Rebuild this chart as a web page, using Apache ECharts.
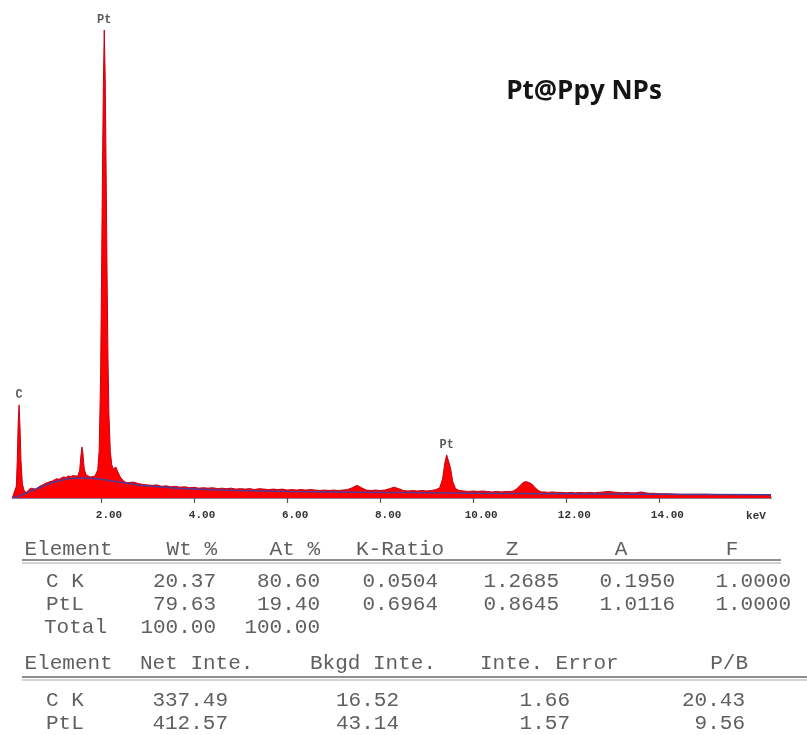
<!DOCTYPE html>
<html>
<head>
<meta charset="utf-8">
<script src="https://cdn.jsdelivr.net/npm/echarts@6/dist/echarts.min.js"></script>
<style>
  html, body { margin: 0; padding: 0; background: #ffffff; }
  #chart { width: 807px; height: 735px; }
</style>
</head>
<body>
<div id="chart"></div>
<script>
// ---- EDS spectrum of Pt@Ppy NPs (energy in keV, counts in arbitrary units) ----

// Carbon K region
const energyLow = [0.10, 0.14, 0.18, 0.20, 0.22, 0.24, 0.26, 0.28, 0.31, 0.35, 0.40, 0.45, 0.50];
const countsLow = [2, 6, 25, 80, 160, 199, 150, 80, 30, 15, 12, 18, 21];

// Bremsstrahlung hump
const energyHump = [0.55, 0.60, 0.65, 0.70, 0.75, 0.80, 0.85, 0.90, 0.95, 1.00, 1.05, 1.10, 1.15, 1.20, 1.25, 1.30, 1.35, 1.40, 1.45];
const countsHump = [20, 19, 23, 26, 28, 31, 33, 35, 36, 39, 41, 40, 43, 45, 44, 47, 46, 48, 47];

// Pt M lines
const energyPtM = [1.50, 1.54, 1.57, 1.59, 1.61, 1.64, 1.68, 1.72, 1.77, 1.82, 1.87, 1.90, 1.93, 1.96, 1.99, 2.01, 2.03, 2.05, 2.07, 2.09, 2.11, 2.13, 2.15, 2.17, 2.20, 2.23, 2.26, 2.29, 2.32, 2.36, 2.42, 2.48, 2.54];
const countsPtM = [47, 58, 92, 109, 96, 62, 49, 47, 45, 46, 47, 48, 60, 100, 250, 450, 680, 880, 1000, 900, 700, 480, 300, 180, 100, 72, 62, 64, 66, 56, 44, 37, 33];

// Mid-energy continuum
const energyMid = [2.6, 2.7, 2.8, 2.9, 3.0, 3.1, 3.2, 3.3, 3.4, 3.5, 3.6, 3.7, 3.8, 3.9, 4.0, 4.1, 4.2, 4.3, 4.4, 4.5, 4.6, 4.7, 4.8, 4.9, 5.0, 5.1, 5.2, 5.3, 5.4, 5.5, 5.6, 5.7, 5.8, 5.9, 6.0, 6.1, 6.2, 6.3, 6.4, 6.5, 6.6, 6.7, 6.8, 6.9, 7.0, 7.1, 7.2, 7.3, 7.4, 7.5, 7.6, 7.7, 7.8, 7.9, 8.0, 8.1, 8.2, 8.3, 8.4, 8.5, 8.6, 8.7, 8.8, 8.9, 9.0, 9.1, 9.2];
const countsMid = [33, 34, 31, 29, 28, 27, 28, 25, 26, 24, 25, 23, 24, 22, 23, 21, 22, 21, 22, 20, 21, 20, 21, 19, 20, 19, 20, 18, 20, 19, 18, 19, 18, 19, 17, 18, 17, 18, 17, 18, 17, 16, 17, 16, 17, 16, 17, 18, 22, 27, 22, 17, 16, 17, 16, 17, 20, 23, 20, 16, 15, 16, 15, 16, 15, 16, 18];

// Pt L lines
const energyPtL = [9.28, 9.34, 9.39, 9.43, 9.47, 9.51, 9.56, 9.62, 9.70, 9.80, 9.90, 10.0, 10.1, 10.2, 10.3, 10.4, 10.5, 10.6, 10.7, 10.8, 10.86, 10.93, 11.00, 11.07, 11.13, 11.20, 11.27, 11.33, 11.40, 11.47, 11.55];
const countsPtL = [22, 40, 75, 92, 88, 65, 35, 20, 16, 15, 14, 15, 14, 15, 14, 13, 14, 13, 14, 14, 15, 19, 26, 33, 35, 33, 29, 22, 16, 13, 13];

// High-energy tail
const energyHigh = [11.6, 11.7, 11.8, 11.9, 12.0, 12.1, 12.2, 12.3, 12.4, 12.5, 12.6, 12.7, 12.8, 12.9, 13.0, 13.1, 13.2, 13.3, 13.4, 13.5, 13.6, 13.7, 13.8, 13.9, 14.0, 14.2, 14.4, 14.6, 14.8, 15.0, 15.2, 15.4, 15.6, 15.8, 16.0, 16.2, 16.4];
const countsHigh = [12, 13, 12, 12, 11, 12, 11, 12, 11, 12, 11, 12, 13, 14, 13, 12, 11, 12, 11, 11, 13, 11, 10, 10, 9, 9, 8, 8, 8, 8, 7.5, 7.5, 7.5, 7, 7, 7, 7];

// Fitted background
const bkgEnergy = [0.1, 0.2, 0.3, 0.4, 0.5, 0.6, 0.8, 1.0, 1.2, 1.4, 1.6, 1.8, 2.0, 2.2, 2.4, 2.6, 2.8, 3.0, 3.5, 4, 5, 6, 7, 8, 9, 10, 11, 12, 13, 14, 15, 16.4];
const bkgCounts = [1, 3, 7, 11, 15, 19, 27, 34, 39, 42, 43, 42, 40, 37, 34, 31, 28, 26, 22, 19, 16, 14, 13, 12, 11, 10, 9.5, 9, 8.5, 8, 7.5, 7];

// Peak identification
const peakNames = ['C', 'Pt', 'Pt'];
const peakEnergy = [0.24, 2.07, 9.43];

// Axis ticks
const tickValues = [2, 4, 6, 8, 10, 12, 14];
const axisUnit = 'keV';
const chartTitle = 'Pt@Ppy NPs';

// Quantification tables
const table1Header = ['Element', 'Wt %', 'At %', 'K-Ratio', 'Z', 'A', 'F'];
const table1Rows = [
  ['C K', '20.37', '80.60', '0.0504', '1.2685', '0.1950', '1.0000'],
  ['PtL', '79.63', '19.40', '0.6964', '0.8645', '1.0116', '1.0000'],
  ['Total', '100.00', '100.00']
];
const table2Header = ['Element', 'Net Inte.', 'Bkgd Inte.', 'Inte. Error', 'P/B'];
const table2Rows = [
  ['C K', '337.49', '16.52', '1.66', '20.43'],
  ['PtL', '412.57', '43.14', '1.57', '9.56']
];

// ---- build series data ----
const energy = [].concat(energyLow, energyHump, energyPtM, energyMid, energyPtL, energyHigh);
const counts = [].concat(countsLow, countsHump, countsPtM, countsMid, countsPtL, countsHigh);
const spectrum = energy.map((e, i) => [e, counts[i]]);
const background = bkgEnergy.map((e, i) => [e, bkgCounts[i]]);
const peakMarks = peakEnergy.map((e, i) => {
  const idx = energy.indexOf(e);
  return { value: [e, counts[idx]], name: peakNames[i] };
});

// ---- table layout ----
const monoFont = '"Liberation Mono", "Courier New", monospace';
const tableFont = '21px ' + monoFont;
const tableColor = '#5f5f5f';

const t1HeadPos = [['left', 24.5], ['right', 217], ['right', 320], ['left', 356], ['center', 512], ['center', 621], ['center', 732]];
const t1RowPos = [['left', 46], ['right', 216], ['right', 320], ['right', 438], ['right', 559], ['right', 675], ['right', 791]];
const t1TotalPos = [['left', 44], ['right', 216], ['right', 320]];
const t2HeadPos = [['left', 24.5], ['left', 140], ['left', 310], ['left', 480], ['right', 748]];
const t2RowPos = [['left', 46], ['right', 228], ['right', 399], ['right', 570], ['right', 745]];

function textEl(str, align, x, y) {
  return {
    type: 'text',
    silent: true,
    style: {
      text: str, x: x, y: y,
      font: tableFont, fill: tableColor,
      textAlign: align, textVerticalAlign: 'middle'
    }
  };
}

const graphics = [];
table1Header.forEach((h, i) => graphics.push(textEl(h, t1HeadPos[i][0], t1HeadPos[i][1], 549)));
[581, 604].forEach((y, r) => table1Rows[r].forEach((c, i) => graphics.push(textEl(c, t1RowPos[i][0], t1RowPos[i][1], y))));
table1Rows[2].forEach((c, i) => graphics.push(textEl(c, t1TotalPos[i][0], t1TotalPos[i][1], 627)));
table2Header.forEach((h, i) => graphics.push(textEl(h, t2HeadPos[i][0], t2HeadPos[i][1], 663)));
[700, 723].forEach((y, r) => table2Rows[r].forEach((c, i) => graphics.push(textEl(c, t2RowPos[i][0], t2RowPos[i][1], y))));

// double rules under the table headers
[[560, 22, 781], [677, 22, 807]].forEach(([y, x1, x2]) => {
  graphics.push({ type: 'line', silent: true, shape: { x1: x1, y1: y, x2: x2, y2: y }, style: { stroke: '#6a6a6a', lineWidth: 1.6 } });
  graphics.push({ type: 'line', silent: true, shape: { x1: x1, y1: y + 3, x2: x2, y2: y + 3 }, style: { stroke: '#a8a8a8', lineWidth: 1 } });
});

// unit label at the end of the energy axis
graphics.push({
  type: 'text', silent: true,
  style: { text: axisUnit, x: 756, y: 516, font: 'bold 11px ' + monoFont, fill: '#333', textAlign: 'center', textVerticalAlign: 'middle' }
});

// sample title
graphics.push({
  type: 'text', silent: true,
  style: { text: chartTitle, x: 584, y: 92, font: 'bold 26px "Open Sans", sans-serif', fill: '#141414', textAlign: 'center', textVerticalAlign: 'middle' }
});

const chart = echarts.init(document.getElementById('chart'), null, { renderer: 'canvas' });
chart.setOption({
  animation: false,
  backgroundColor: '#ffffff',
  grid: { left: 12.6, right: 36, top: 30, bottom: 237, containLabel: false },
  xAxis: {
    type: 'value',
    min: 0.1,
    max: 16.4,
    axisLine: { show: true, onZero: false, lineStyle: { color: '#8c7f9a', width: 2 } },
    axisTick: { show: true, customValues: tickValues, length: 5, lineStyle: { color: '#555', width: 1.2 } },
    axisLabel: {
      show: true,
      customValues: tickValues,
      formatter: v => v.toFixed(2),
      margin: 12,
      padding: [0, 0, 0, 16],
      fontFamily: monoFont,
      fontWeight: 'bold',
      fontSize: 11,
      color: '#333'
    },
    splitLine: { show: false }
  },
  yAxis: {
    type: 'value',
    min: 0,
    max: 1000,
    show: false
  },
  series: [
    {
      type: 'line',
      data: spectrum,
      symbol: 'none',
      z: 2,
      lineStyle: { color: '#c40016', width: 1 },
      areaStyle: { color: '#ff0000', opacity: 1 }
    },
    {
      type: 'line',
      data: background,
      smooth: true,
      symbol: 'none',
      z: 3,
      lineStyle: { color: '#4b3c9c', width: 1.5 }
    },
    {
      type: 'scatter',
      data: peakMarks,
      symbolSize: 0,
      z: 4,
      label: {
        show: true,
        position: 'top',
        distance: 4,
        formatter: p => p.name,
        fontFamily: monoFont,
        fontWeight: 'bold',
        fontSize: 12,
        color: '#333'
      }
    }
  ],
  graphic: graphics
});
</script>
</body>
</html>
